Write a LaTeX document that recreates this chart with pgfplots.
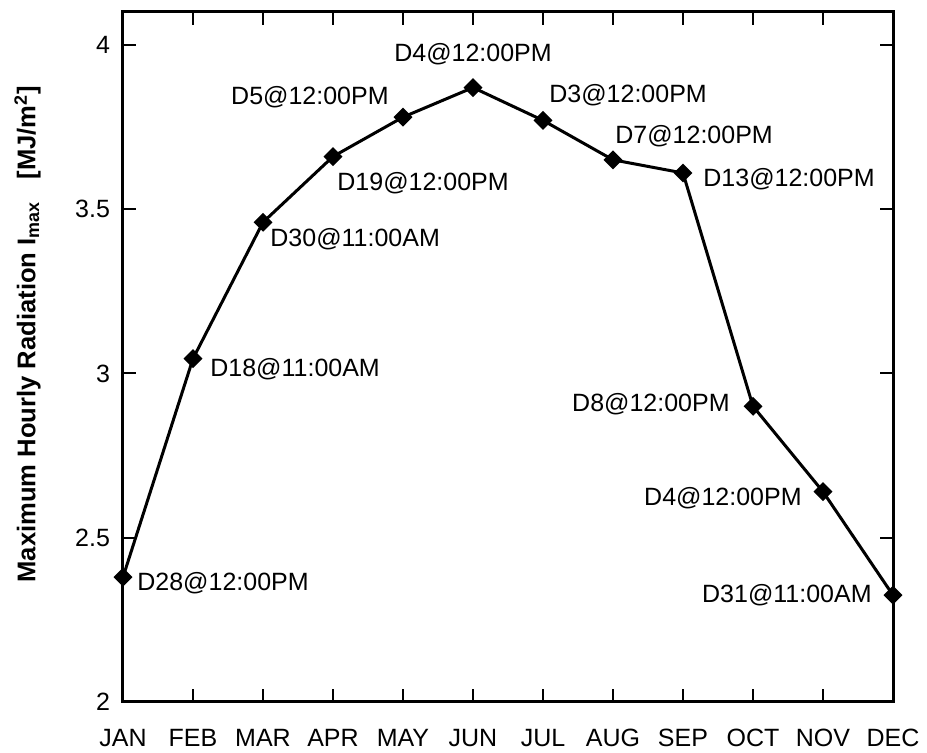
\documentclass[border=0pt]{standalone}
\usepackage{fontspec}
\setmainfont{Liberation Sans}
\usepackage{pgfplots}
\pgfplotsset{compat=1.18}
\begin{document}
\begin{tikzpicture}
\begin{axis}[
  width=385pt, height=345pt, scale only axis,
  xmin=0, xmax=11, ymin=2, ymax=4.1,
  xtick={0,1,2,3,4,5,6,7,8,9,10,11},
  xticklabels={JAN,FEB,MAR,APR,MAY,JUN,JUL,AUG,SEP,OCT,NOV,DEC},
  ytick={2,2.5,3,3.5,4},
  yticklabels={2,2.5,3,3.5,4},
  tick align=inside, xtick pos=both, ytick pos=both,
  major tick length=6.5pt,
  every tick/.style={black, line width=1pt},
  axis line style={line width=1.5pt},
  ticklabel style={font=\fontsize{12.5}{15}\selectfont},
  xticklabel style={yshift=-10pt},
  yticklabel style={xshift=-3pt},
  /pgf/number format/assume math mode=true,
  clip=false,
]
\addplot[black, line width=1.5pt, mark=square*, mark size=2.6pt, mark options={rotate=45, solid}]
  coordinates {(0,2.38) (1,3.045) (2,3.46) (3,3.66) (4,3.78) (5,3.87) (6,3.77) (7,3.65) (8,3.61) (9,2.90) (10,2.64) (11,2.325)};
\begin{scope}[every node/.style={font=\fontsize{12.5}{15}\selectfont, inner sep=0pt}]
\node[anchor=west, xshift=7pt, yshift=-3pt] at (axis cs:0,2.38) {D28@12:00PM};
\node[anchor=west, xshift=8.5pt, yshift=-5.5pt] at (axis cs:1,3.045) {D18@11:00AM};
\node[anchor=west, xshift=3.5pt, yshift=-8.5pt] at (axis cs:2,3.46) {D30@11:00AM};
\node[anchor=west, xshift=2pt, yshift=-13.5pt] at (axis cs:3,3.66) {D19@12:00PM};
\node[anchor=east, xshift=-7pt, yshift=10pt] at (axis cs:4,3.78) {D5@12:00PM};
\node[anchor=center, yshift=16.5pt] at (axis cs:5,3.87) {D4@12:00PM};
\node[anchor=west, xshift=3pt, yshift=12.5pt] at (axis cs:6,3.77) {D3@12:00PM};
\node[anchor=west, xshift=1pt, yshift=12pt] at (axis cs:7,3.65) {D7@12:00PM};
\node[anchor=west, xshift=10pt, yshift=-3pt] at (axis cs:8,3.61) {D13@12:00PM};
\node[anchor=east, xshift=-11.5pt, yshift=1pt] at (axis cs:9,2.90) {D8@12:00PM};
\node[anchor=east, xshift=-10.5pt, yshift=-3pt] at (axis cs:10,2.64) {D4@12:00PM};
\node[anchor=east, xshift=-10.5pt, yshift=0pt] at (axis cs:11,2.325) {D31@11:00AM};
\end{scope}
\node[rotate=90, anchor=center, inner sep=0pt, font=\fontsize{12.8}{15}\selectfont\bfseries] at (axis description cs:-0.124,0.533)
  {Maximum Hourly Radiation I\textsubscript{max}\hspace{11pt}[MJ/m\textsuperscript{2}]};
\coordinate (bl) at ([xshift=-61.5pt, yshift=-25.5pt]rel axis cs:0,0);
\coordinate (tr) at ([xshift=17pt, yshift=6pt]rel axis cs:1,1);
\end{axis}
\pgfresetboundingbox
\path (bl) rectangle (tr);
\end{tikzpicture}
\end{document}
